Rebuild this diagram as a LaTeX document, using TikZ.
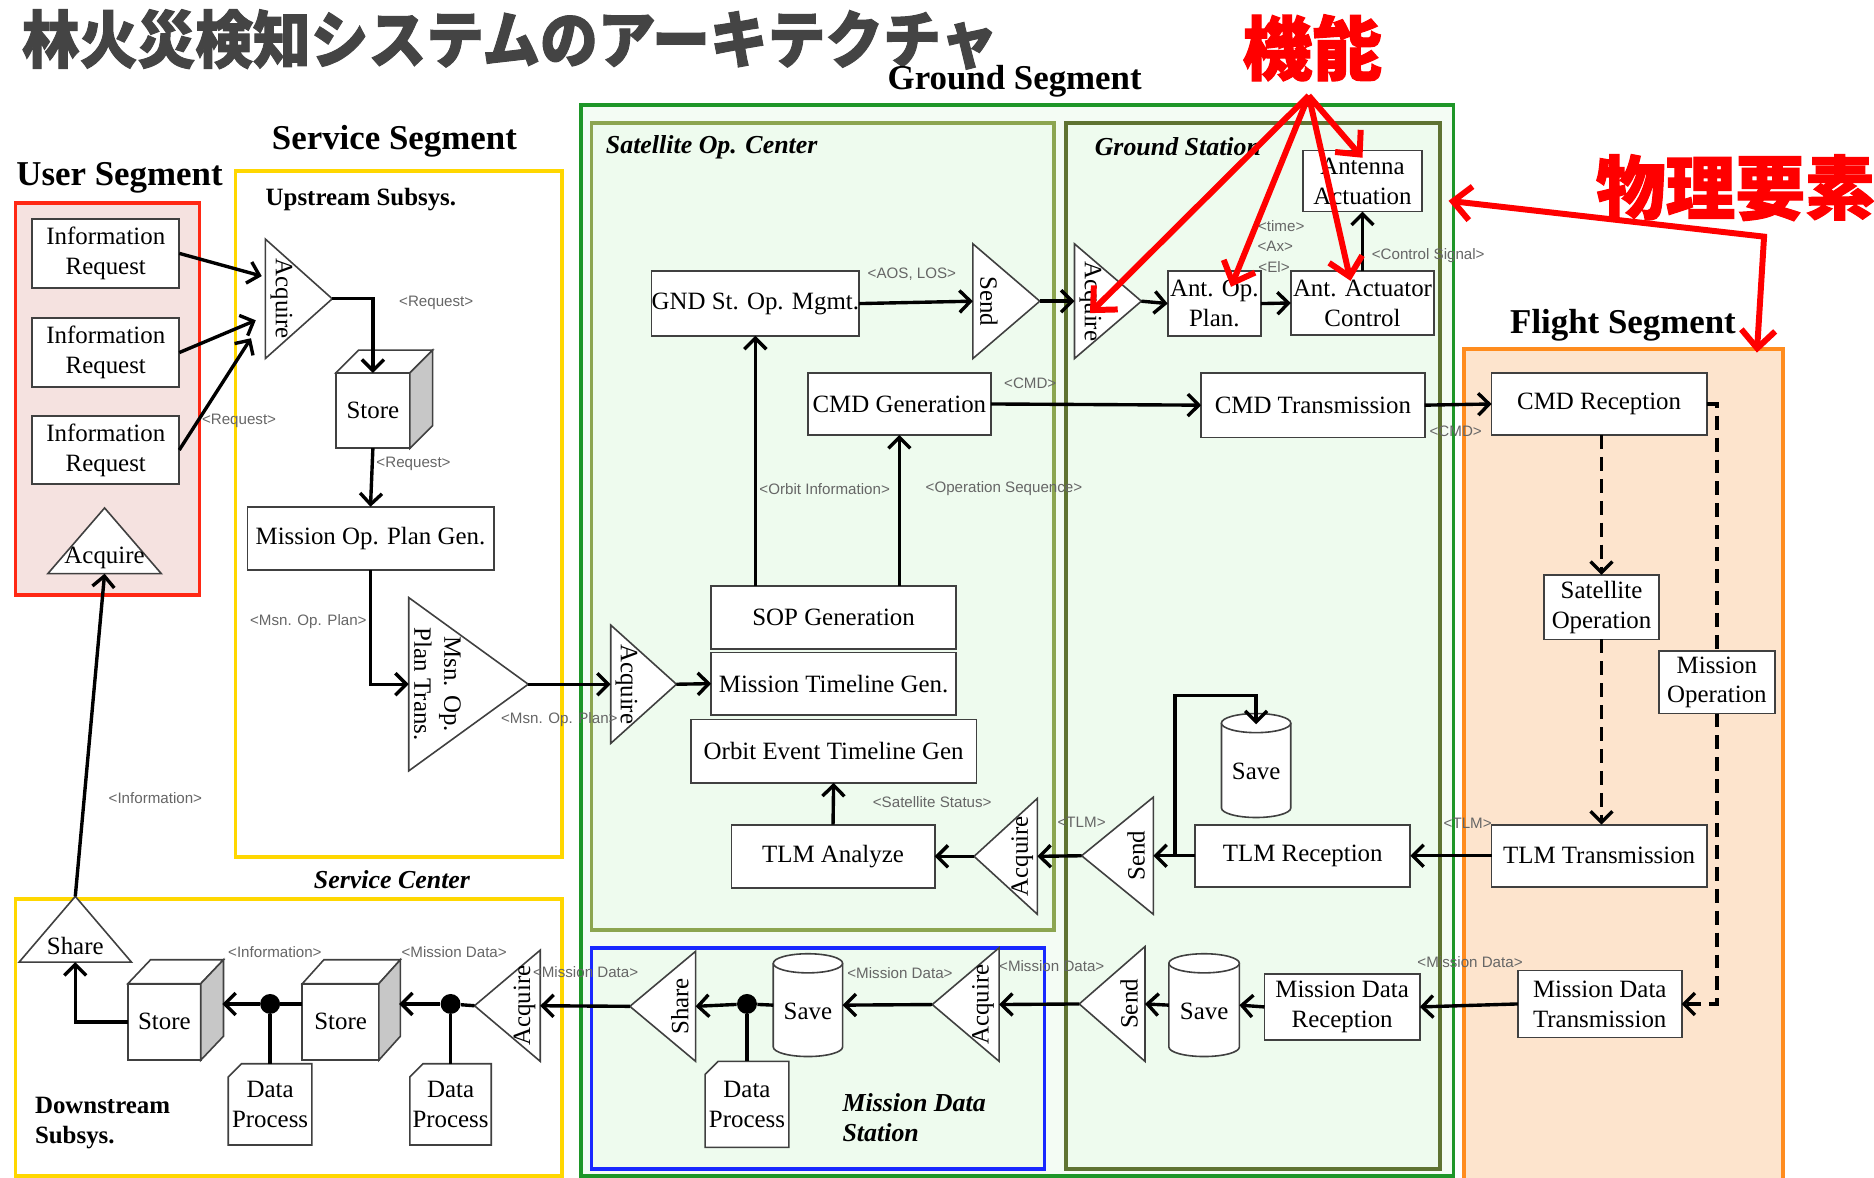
\documentclass[tikz,border=0pt]{standalone}
\usepackage{fontspec}
\setmainfont{Liberation Serif}
\newfontfamily\labfont{Liberation Sans}
\newfontfamily\cjk{Noto Sans CJK JP}[BoldFeatures={FakeBold=1.6}]
\usetikzlibrary{arrows.meta,calc,fit}

\definecolor{ured}{RGB}{255,40,20}
\definecolor{upink}{RGB}{245,226,224}
\definecolor{yel}{RGB}{255,215,0}
\definecolor{gseg}{RGB}{30,150,40}
\definecolor{gsegfill}{RGB}{244,252,244}
\definecolor{socb}{RGB}{140,165,80}
\definecolor{gsb}{RGB}{95,115,50}
\definecolor{lgreen}{RGB}{238,251,238}
\definecolor{blu}{RGB}{25,40,255}
\definecolor{orb}{RGB}{255,140,30}
\definecolor{peach}{RGB}{253,228,205}
\definecolor{tgray}{RGB}{68,68,68}
\definecolor{bred}{RGB}{255,0,0}

\newcommand\bxfont{\fontsize{12.5}{15}\selectfont}
\newcommand\hdfont{\fontsize{17.5}{20}\selectfont\bfseries}
\newcommand\bifont{\fontsize{13}{15}\selectfont\bfseries\itshape}
\newcommand\lbfont{\labfont\fontsize{7.6}{9}\selectfont}

\tikzset{
 box/.style={draw=black!75, line width=0.9pt, fill=white, inner sep=0pt, outer sep=0pt, align=center, font=\bxfont},
 ghost/.style={inner sep=0pt, outer sep=0pt},
 tri/.style={draw=black!75, line width=0.8pt, fill=white},
 ttxt/.style={font=\bxfont, inner sep=0pt, align=center},
 arr/.style={draw=black, line width=1.7pt, -{Straight Barb[length=5.5pt,width=11pt]}},
 ln/.style={draw=black, line width=1.7pt},
 dsh/.style={draw=black, line width=1.7pt, dash pattern=on 7pt off 4pt},
 dsharr/.style={dsh, -{Straight Barb[length=5.5pt,width=11pt]}},
 lbl/.style={font=\lbfont, text=black!60, inner sep=1pt},
 hd/.style={font=\hdfont, inner sep=1pt},
 bi/.style={font=\bifont, inner sep=1pt, align=left},
 dotn/.style={circle, fill=black, minimum size=10pt, inner sep=0pt},
 redarr/.style={draw=bred, line width=3pt, -{Straight Barb[length=9pt,width=17pt]}},
 frame/.style={line width=1.8pt}
}

% box from corners
\newcommand\bx[6]{\node[box, minimum width={(#4-#2)*0.6pt}, minimum height={(#5-#3)*0.6pt}] (#1) at ({(#2+#4)/2},{(#3+#5)/2}) {#6};}
% right-pointing triangle
\newcommand\trir[6]{%
 \node[ghost, fit={(#2,#3) (#4,#5)}] (#1) {};
 \draw[tri] (#1.north west) -- (#1.east) -- (#1.south west) -- cycle;
 \node[ttxt, rotate=-90] (#1-t) at ($(#1.west)!0.24!(#1.east)$) {#6};}
% left-pointing triangle
\newcommand\tril[6]{%
 \node[ghost, fit={(#2,#3) (#4,#5)}] (#1) {};
 \draw[tri] (#1.north east) -- (#1.west) -- (#1.south east) -- cycle;
 \node[ttxt, rotate=90] (#1-t) at ($(#1.east)!0.24!(#1.west)$) {#6};}
% upward triangle
\newcommand\triu[6]{%
 \node[ghost, fit={(#2,#3) (#4,#5)}] (#1) {};
 \draw[tri] (#1.south west) -- (#1.north) -- (#1.south east) -- cycle;
 \node[ttxt] (#1-t) at ($(#1.south)!0.24!(#1.north)$) {#6};}
% cube
\newcommand\cubex[8]{%
 \bx{#1}{#2}{#3}{#4}{#5}{#8}
 \draw[tri] (#1.north west) -- ++(#6,-#7) -- ($(#1.north east)+(#6,-#7)$) -- (#1.north east) -- cycle;
 \draw[tri, fill=black!22] (#1.north east) -- ++(#6,-#7) -- ($(#1.south east)+(#6,-#7)$) -- (#1.south east) -- cycle;}
% cylinder
\newcommand\cylx[6]{%
 \node[ghost, fit={(#2,#3) (#4,#5)}] (#1) {};
 \draw[tri] (#2,#3+8) -- (#2,#5-8) arc[start angle=180, end angle=0, x radius={(#4-#2)/2}, y radius=8] -- (#4,#3+8);
 \draw[tri] ({(#2+#4)/2},#3+8) ellipse[x radius={(#4-#2)/2}, y radius=8];
 \node[ttxt] (#1-t) at ($(#1.center)+(0,5)$) {#6};}
% data process (cut corner)
\newcommand\dproc[6]{%
 \draw[tri] (#2+11,#3) -- (#4,#3) -- (#4,#5) -- (#2,#5) -- (#2,#3+11) -- cycle;
 \node[ghost, minimum width={(#4-#2)*0.6pt}, minimum height={(#5-#3)*0.6pt}, font=\bxfont, align=center] (#1) at ({(#2+#4)/2},{(#3+#5)/2}) {#6};}
\newcommand\lbl[3]{\node[lbl] (#1) at (#2) {#3};}

\begin{document}
\begin{tikzpicture}[x=0.6pt,y=-0.6pt]
\useasboundingbox[fill=white] (0,0) rectangle (1568,985);

% ---------- frames ----------
\draw[frame, draw=ured, fill=upink] (13,170) rectangle (167,498);
\draw[frame, draw=yel, fill=white] (197,143) rectangle (470,717);
\draw[frame, draw=yel, fill=white] (13,752) rectangle (470,984);
\draw[frame, draw=gseg, fill=gsegfill] (486,88) rectangle (1216,984);
\draw[frame, draw=socb, fill=lgreen] (495,103) rectangle (882,778);
\draw[frame, draw=gsb, fill=lgreen] (892,103) rectangle (1205,978);
\draw[frame, draw=blu, fill=lgreen] (495,793) rectangle (874,978);
\draw[frame, draw=orb, fill=peach] (1225,292) rectangle (1492,987);

% ---------- headings ----------
\node[font=\cjk\bfseries\fontsize{29}{32}\selectfont, text=tgray, anchor=west, inner sep=0pt, yscale=1.08] (title) at (18,33) {林火災検知システムのアーキテクチャ};
\node[hd] (hU) at (100,149) {User Segment};
\node[hd] (hS) at (330,118) {Service Segment};
\node[hd] (hG) at (849,68) {Ground Segment};
\node[hd] (hF) at (1358,272) {Flight Segment};
\node[font=\bxfont\bfseries, anchor=west, inner sep=0pt] (hUp) at (222,167) {Upstream Subsys.};
\node[bi, anchor=west] (hSOC) at (505,123) {Satellite Op. Center};
\node[bi, anchor=west] (hGS) at (914,123) {Ground Station};
\node[bi] (hSC) at (328,736) {Service Center};
\node[font=\bxfont\bfseries, anchor=west, align=left, inner sep=0pt] (hDown) at (29,940) {Downstream\\Subsys.};
\node[bi, anchor=west] (hMDS) at (703,935) {Mission Data\\Station};

% ---------- user segment ----------
\bx{ir1}{27}{183}{150}{241}{Information\\Request}
\bx{ir2}{27}{266}{150}{324}{Information\\Request}
\bx{ir3}{27}{348}{150}{405}{Information\\Request}
\triu{uacq}{40}{425}{135}{480}{Acquire}

% ---------- upstream ----------
\trir{sacq}{222}{200}{278}{300}{Acquire}
\cubex{sst}{281}{312}{343}{375}{19}{19}{Store}
\bx{mopg}{207}{424}{413}{477}{Mission Op. Plan Gen.}
\trir{mopt}{342}{500}{442}{645}{Msn. Op.\\Plan Trans.}

% ---------- satellite op center ----------
\trir{cacq}{511}{523}{566}{622}{Acquire}
\bx{sop}{595}{490}{800}{543}{SOP Generation}
\bx{mtg}{595}{546}{800}{598}{Mission Timeline Gen.}
\bx{oetg}{578}{602}{817}{655}{Orbit Event Timeline Gen}
\bx{gnd}{547}{227}{717}{281}{GND St. Op. Mgmt.}
\bx{cmdg}{676}{312}{829}{364}{CMD Generation}
\bx{tlma}{612}{690}{782}{743}{TLM Analyze}
\tril{gacq}{815}{668}{868}{765}{Acquire}
\trir{snd1}{814}{204}{870}{300}{Send}

% ---------- ground station ----------
\trir{gsacq}{899}{204}{955}{300}{Acquire}
\bx{aop}{977}{227}{1055}{281}{Ant. Op.\\Plan.}
\bx{aac}{1080}{227}{1200}{280}{Ant. Actuator\\Control}
\bx{aa}{1090}{126}{1190}{177}{Antenna\\Actuation}
\bx{cmdt}{1005}{312}{1192}{366}{CMD Transmission}
\bx{tlmr}{1000}{690}{1180}{742}{TLM Reception}
\tril{snd2}{905}{667}{965}{765}{Send}
\cylx{sv1}{1022}{597}{1080}{684}{Save}
\bx{mdr}{1058}{815}{1188}{870}{Mission Data\\Reception}
\cylx{sv2}{978}{798}{1037}{884}{Save}
\tril{snd3}{903}{792}{958}{888}{Send}

% ---------- mission data station ----------
\tril{macq}{780}{793}{836}{888}{Acquire}
\cylx{sv3}{647}{798}{705}{884}{Save}
\tril{shr1}{527}{796}{582}{888}{Share}
\dproc{dp3}{590}{888}{660}{960}{Data\\Process}
\node[dotn] (d1) at (625,840) {};

% ---------- flight segment ----------
\bx{cmdr}{1248}{312}{1428}{364}{CMD Reception}
\bx{satop}{1292}{481}{1388}{535}{Satellite\\Operation}
\bx{misop}{1388}{545}{1485}{597}{Mission\\Operation}
\bx{tlmt}{1248}{690}{1428}{742}{TLM Transmission}
\bx{mdt}{1270}{812}{1407}{868}{Mission Data\\Transmission}

% ---------- downstream ----------
\tril{dacq}{397}{795}{452}{888}{Acquire}
\cubex{st2}{253}{823}{317}{887}{18}{20}{Store}
\cubex{st1}{107}{823}{168}{887}{19}{20}{Store}
\dproc{dp2}{343}{890}{411}{958}{Data\\Process}
\dproc{dp1}{191}{890}{261}{958}{Data\\Process}
\node[dotn] (d2) at (377,840) {};
\node[dotn] (d3) at (226,840) {};
\triu{shr2}{16}{750}{110}{805}{Share}

% ---------- connectors ----------
\draw[arr] (ir1.east) -- ($(sacq.west)+(-3,-19)$);
\draw[arr] (ir2.east) -- ($(sacq.west)+(-8,18)$);
\draw[arr] (ir3.east) -- ($(sacq.west)+(-12,33)$);
\draw[arr] (sacq.east) -| (sst.north);
\draw[arr] (sst.south) -- (mopg.north);
\draw[arr] (mopg.south) |- (mopt.west);
\draw[arr] (mopt.east) -- (cacq.west);
\draw[arr] (cacq.east) -- (mtg.west);
\draw[arr] (gnd.south |- sop.north) -- (gnd.south);
\draw[arr] (cmdg.south |- sop.north) -- (cmdg.south);
\draw[arr] (tlma.north) -- (oetg.south);
\draw[arr] (gacq.west) -- (tlma.east);
\draw[arr] (gnd.east) -- (snd1.west);
\draw[arr] (snd1.east) -- (gsacq.west);
\draw[arr] (gsacq.east) -- (aop.west);
\draw[arr] (aop.east) -- (aac.west);
\draw[arr] (aac.north) -- (aa.south);
\draw[arr] (cmdg.east) -- (cmdt.west);
\draw[arr] (cmdt.east) -- (cmdr.west);
\draw[arr] (tlmt.west) -- (tlmr.east);
\draw[arr] (tlmr.west) -- (snd2.east);
\coordinate (br1) at (983,716);
\draw[arr] (br1) -- (983,582) -| ($(sv1.north)+(0,9)$);
\draw[arr] (snd2.west) -- (gacq.east);
\draw[dsharr] (satop.north |- cmdr.south) -- (satop.north);
\draw[dsharr] (satop.south) -- (satop.south |- tlmt.north);
\draw[dsh] (cmdr.east) -- (misop.north |- cmdr.east) -- (misop.north);
\draw[dsharr] (misop.south) |- (mdt.east);
\draw[arr] (mdt.west) -- (mdr.east);
\draw[arr] (mdr.west) -- (sv2.east);
\draw[arr] (sv2.west) -- (snd3.east);
\draw[arr] (snd3.west) -- (macq.east);
\draw[arr] (macq.west) -- (sv3.east);
\draw[ln] (sv3.west) -- (d1);
\draw[arr] (d1) -- (shr1.east);
\draw[ln] (d1) -- (dp3.north);
\draw[arr] (shr1.west) -- (dacq.east);
\draw[ln] (dacq.west) -- (d2);
\draw[arr] (d2) -- ($(st2.east |- d2)+(17,0)$);
\draw[ln] (d2) -- (dp2.north);
\draw[ln] (st2.west |- d3) -- (d3);
\draw[arr] (d3) -- ($(st1.east |- d3)+(18,0)$);
\draw[ln] (d3) -- (dp1.north);
\draw[arr] (st1.west) -| (shr2.south);
\draw[arr] (shr2.north) -- (uacq.south);

% ---------- labels ----------
\lbl{l1}{200,352}{<Request>}
\lbl{l2}{365,253}{<Request>}
\lbl{l3}{346,388}{<Request>}
\lbl{l4}{258,520}{<Msn. Op. Plan>}
\lbl{l5}{468,602}{<Msn. Op. Plan>}
\lbl{l6}{763,229}{<AOS, LOS>}
\lbl{l7}{862,321}{<CMD>}
\lbl{l8}{690,409}{<Orbit Information>}
\lbl{l9}{840,409}{<Operation Sequence>}
\lbl{l10}{780,671}{<Satellite Status>}
\lbl{l11}{1072,189}{<time>}
\lbl{l12}{1067,206}{<Ax>}
\lbl{l13}{1066,223}{<El>}
\lbl{l14}{1195,214}{<Control Signal>}
\lbl{l15}{1218,361}{<CMD>}
\lbl{l16}{1228,689}{<TLM>}
\lbl{l17}{905,688}{<TLM>}
\lbl{l18}{1230,805}{<Mission Data>}
\lbl{l19}{880,808}{<Mission Data>}
\lbl{l20}{753,814}{<Mission Data>}
\lbl{l21}{490,813}{<Mission Data>}
\lbl{l22}{380,797}{<Mission Data>}
\lbl{l23}{230,797}{<Information>}
\lbl{l24}{130,668}{<Information>}

% ---------- red annotations ----------
\node[font=\cjk\bfseries\fontsize{35}{38}\selectfont, text=bred, inner sep=0pt] (kino) at (1098,40) {機能};
\node[font=\cjk\bfseries\fontsize{35}{38}\selectfont, text=bred, anchor=west, inner sep=0pt] (butsuri) at (1335,157) {物理要素};
\coordinate (hub) at (1095,80);
\coordinate (r1) at (912,262);
\coordinate (r2) at (1030,240);
\coordinate (r3) at (1130,235);
\coordinate (r4) at (1140,132);
\draw[redarr] (hub) -- (r1);
\draw[redarr] (hub) -- (r2);
\draw[redarr] (hub) -- (r3);
\draw[redarr] (hub) -- (r4);
\coordinate (pc) at (1476,198);
\coordinate (p1) at (1212,168);
\coordinate (p2) at (1470,295);
\draw[draw=bred, line width=3pt, {Straight Barb[length=9pt,width=17pt]}-{Straight Barb[length=9pt,width=17pt]}] (p1) -- (pc) -- (p2);
\end{tikzpicture}
\end{document}
